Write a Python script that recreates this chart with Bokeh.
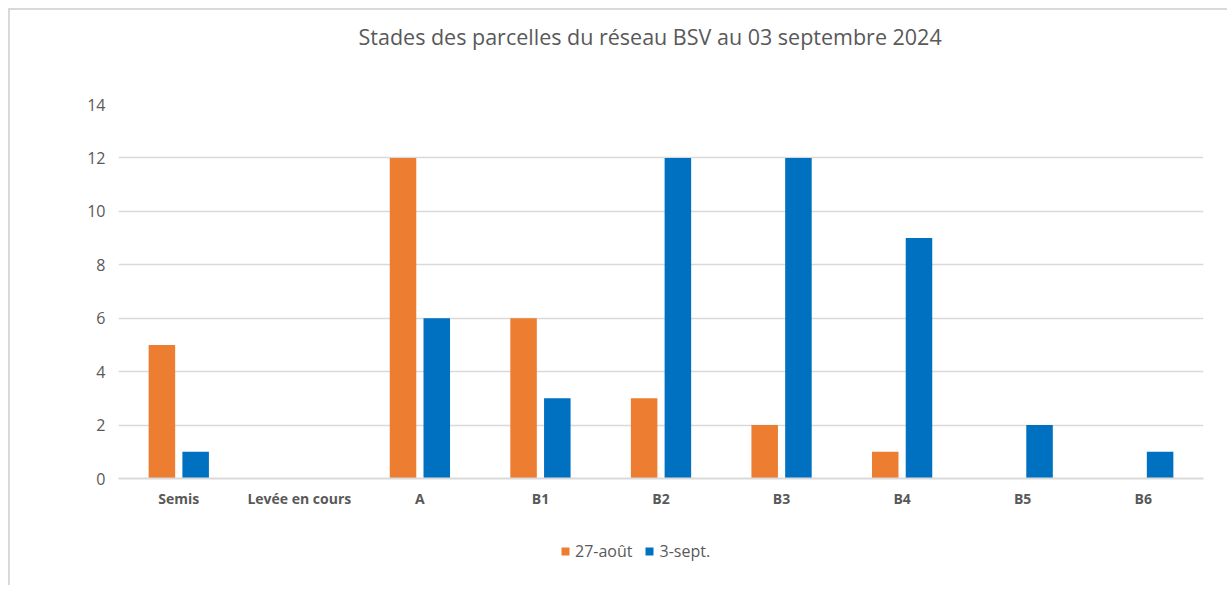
from bokeh.plotting import figure
from bokeh.layouts import column
from bokeh.models import Range1d, FixedTicker, Legend, LegendItem, ColumnDataSource, Title
from bokeh.transform import dodge
from bokeh.embed import file_html
from bokeh.resources import INLINE

categories = ["Semis", "Levée en cours", "A", "B1", "B2", "B3", "B4", "B5", "B6"]
aout_27 = [5, 0, 12, 6, 3, 2, 1, 0, 0]
sept_3 = [1, 0, 6, 3, 12, 12, 9, 2, 1]
series_names = ["27-août", "3-sept."]
y_ticks = [0, 2, 4, 6, 8, 10, 12, 14]

FONT = "Open Sans"
TXT = "#595959"
GRID = "#d9d9d9"
ORANGE = "#ED7D31"
BLUE = "#0070C0"

src = ColumnDataSource(dict(cat=categories, a=aout_27, s=sept_3))

p = figure(x_range=categories, y_range=Range1d(0, 14), width=1227, height=525,
           output_backend="svg", toolbar_location=None, title=None,
           min_border_left=118, min_border_right=24, min_border_top=104, min_border_bottom=47)
p.outline_line_color = None
p.border_fill_color = None
p.background_fill_color = None

spacer = Title(text=" ", text_font_size="2px", text_color="#ffffff", standoff=49)
main_title = Title(text="Stades des parcelles du réseau BSV au 03 septembre 2024",
                   align="left", offset=240, text_font=FONT, text_font_size="21.5px",
                   text_font_style="normal", text_color=TXT, standoff=1)
p.add_layout(spacer, "above")
p.add_layout(main_title, "above")

r1 = p.vbar(x=dodge("cat", -0.14, range=p.x_range), top="a", width=0.22, source=src,
            fill_color=ORANGE, line_color=None)
r2 = p.vbar(x=dodge("cat", 0.14, range=p.x_range), top="s", width=0.22, source=src,
            fill_color=BLUE, line_color=None)

p.yaxis.ticker = FixedTicker(ticks=y_ticks)
p.yaxis.axis_line_color = None
p.yaxis.major_tick_line_color = None
p.yaxis.minor_tick_line_color = None
p.yaxis.major_label_text_font = FONT
p.yaxis.major_label_text_font_size = "16px"
p.yaxis.major_label_text_color = TXT
p.yaxis.major_label_standoff = 7

p.xaxis.axis_line_color = GRID
p.xaxis.axis_line_width = 2
p.xaxis.major_tick_line_color = None
p.xaxis.minor_tick_line_color = None
p.xaxis.major_label_text_font = FONT
p.xaxis.major_label_text_font_size = "14px"
p.xaxis.major_label_text_font_style = "bold"
p.xaxis.major_label_text_color = TXT
p.xaxis.major_label_standoff = 4

p.xgrid.grid_line_color = None
p.ygrid.grid_line_color = GRID
p.ygrid.grid_line_width = 1.5

# legend strip below the chart
pl = figure(x_range=categories, y_range=Range1d(0, 14), width=1227, height=60,
            output_backend="svg", toolbar_location=None,
            x_axis_location=None, y_axis_location=None,
            min_border_left=0, min_border_right=0, min_border_top=0, min_border_bottom=0)
pl.outline_line_color = None
pl.border_fill_color = None
pl.background_fill_color = None
pl.grid.grid_line_color = None
l1 = pl.vbar(x=dodge("cat", -0.14, range=pl.x_range), top="a", width=0.22, source=src,
             fill_color=ORANGE, line_color=None, visible=False)
l2 = pl.vbar(x=dodge("cat", 0.14, range=pl.x_range), top="s", width=0.22, source=src,
             fill_color=BLUE, line_color=None, visible=False)

legend = Legend(items=[LegendItem(label=series_names[0], renderers=[l1]),
                       LegendItem(label=series_names[1], renderers=[l2])],
                orientation="horizontal", location=(442, 23),
                label_text_font=FONT, label_text_font_size="16px", label_text_color=TXT,
                glyph_width=10, glyph_height=10, label_standoff=5, spacing=12,
                border_line_color=None, background_fill_alpha=0, padding=4, margin=0)
pl.add_layout(legend, "center")

frame_lines = ("linear-gradient(#d9d9d9, #d9d9d9) 8px 8px / 2px 100% no-repeat, "
               "linear-gradient(#d9d9d9, #d9d9d9) 8px 8px / 100% 2px no-repeat, #ffffff")
layout = column(p, pl, spacing=0, styles={"background": frame_lines})

open("out.html", "w").write(file_html(layout, INLINE))
